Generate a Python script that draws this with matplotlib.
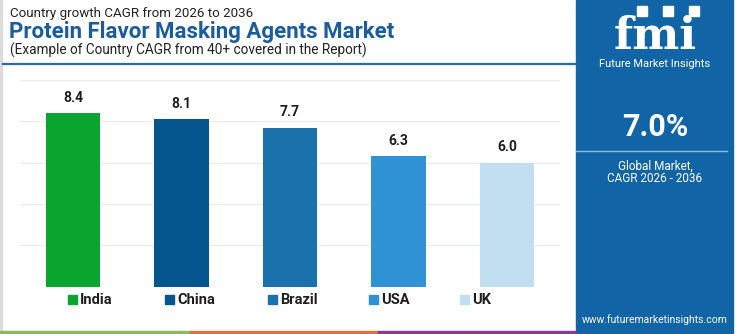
import matplotlib
matplotlib.use("Agg")
import matplotlib.pyplot as plt
from matplotlib.patches import Rectangle
import numpy as np

# Country CAGR 2026-2036, Protein Flavor Masking Agents Market
COUNTRIES = ["India", "China", "Brazil", "USA", "UK"]
CAGR = [8.4, 8.1, 7.7, 6.3, 6.0]
COLORS = ["#0aa52e", "#05568f", "#1a71ab", "#2f92d4", "#c2dff1"]
GLOBAL_CAGR = "7.0%"

PANEL_BLUE = "#1165a7"
TITLE_BLUE = "#1a5c9c"

plt.rcParams["font.family"] = ["Roboto", "DejaVu Sans"]

W, H = 750, 334
fig = plt.figure(figsize=(W / 100, H / 100), dpi=100)


def fx(px):
    return px / W


def fy(py):
    return 1 - py / H


# frame and bottom strip
fig.patches.append(Rectangle((0, 0), fx(2), 1, transform=fig.transFigure,
                             color="#dcdcdc", zorder=0))
for x0, x1, c in [(0, 190, "#8bbb5a"), (190, 378, "#e0703c"), (378, 576, "#8b3a8e")]:
    fig.patches.append(Rectangle((fx(x0), 0), fx(x1 - x0), 3.5 / H,
                                 transform=fig.transFigure, color=c, zorder=1))

# header
fig.text(fx(10), fy(14), "Country growth CAGR from 2026 to 2036", fontsize=9.6,
         color="#222222", va="center", ha="left")
fig.text(fx(9), fy(32), "Protein Flavor Masking Agents Market", fontsize=16,
         fontweight="bold", color=TITLE_BLUE, va="center", ha="left")
fig.text(fx(10), fy(50), "(Example of Country CAGR from 40+ covered in the Report)",
         fontsize=9.8, color="#222222", va="center", ha="left")
fig.add_artist(plt.Line2D([fx(3), fx(576)], [fy(64), fy(64)], color="#2a6aa8", lw=1.6))

# bar chart
ax = fig.add_axes([fx(20), fy(286.7), fx(540), (286.7 - 80) / H])
x = np.arange(len(COUNTRIES))
ax.bar(x, CAGR, width=0.5, color=COLORS, zorder=2)
for xi, v in zip(x, CAGR):
    ax.annotate(f"{v:.1f}", (xi, v), xytext=(0, 6), textcoords="offset points",
                ha="center", va="bottom", fontsize=10, fontweight="bold", color="#1e1e1e")
ax.set_xlim(-0.49, 4.49)
ax.set_ylim(0, 10)
ax.set_yticks([0, 2, 4, 6, 8, 10])
ax.grid(axis="y", color="#ebebeb", lw=0.8, zorder=0)
ax.tick_params(left=False, bottom=False, labelleft=False, labelbottom=False)
for s in ax.spines.values():
    s.set_visible(False)

# legend
leg_x = [68, 165, 268, 369, 460]
for px, name, c in zip(leg_x, COUNTRIES, COLORS):
    fig.patches.append(Rectangle((fx(px), fy(303.5)), fx(9), 9 / H,
                                 transform=fig.transFigure, color=c))
    fig.text(fx(px + 12), fy(299.5), name, fontsize=10.5, fontweight="bold",
             color="#1e1e1e", va="center", ha="left")

# right panel
fig.patches.append(Rectangle((fx(576), 0), fx(733 - 576), 1, transform=fig.transFigure,
                             color=PANEL_BLUE, zorder=0))
cx = fx(655)
fig.text(cx, fy(49), "fmi", fontsize=32, fontweight="bold", family="DejaVu Serif",
         color="white", ha="center", va="baseline")
for yy in range(20, 50, 4):
    fig.add_artist(plt.Line2D([fx(600), fx(712)], [fy(yy), fy(yy)],
                              color=PANEL_BLUE, lw=0.8))
for px in [642, 668, 694]:
    fig.patches.append(Rectangle((fx(px - 5), fy(16)), fx(10), 10 / H,
                                 transform=fig.transFigure, color="white"))
fig.text(cx, fy(64), "Future Market Insights", fontsize=8, color="white",
         ha="center", va="center")
fig.text(cx, fy(127), GLOBAL_CAGR, fontsize=22, fontweight="bold", color="white",
         ha="center", va="center")
fig.add_artist(plt.Line2D([fx(576), fx(727)], [fy(151), fy(151)], color="#8dbbe0", lw=1))
fig.text(cx, fy(166), "Global Market,", fontsize=8.5, color="white", ha="center", va="center")
fig.text(cx, fy(179), "CAGR 2026 - 2036", fontsize=8.5, color="white", ha="center", va="center")
fig.text(cx, fy(320), "www.futuremarketinsights.com", fontsize=7.5, color="white",
         ha="center", va="center")

fig.savefig("out.png", dpi=100)
